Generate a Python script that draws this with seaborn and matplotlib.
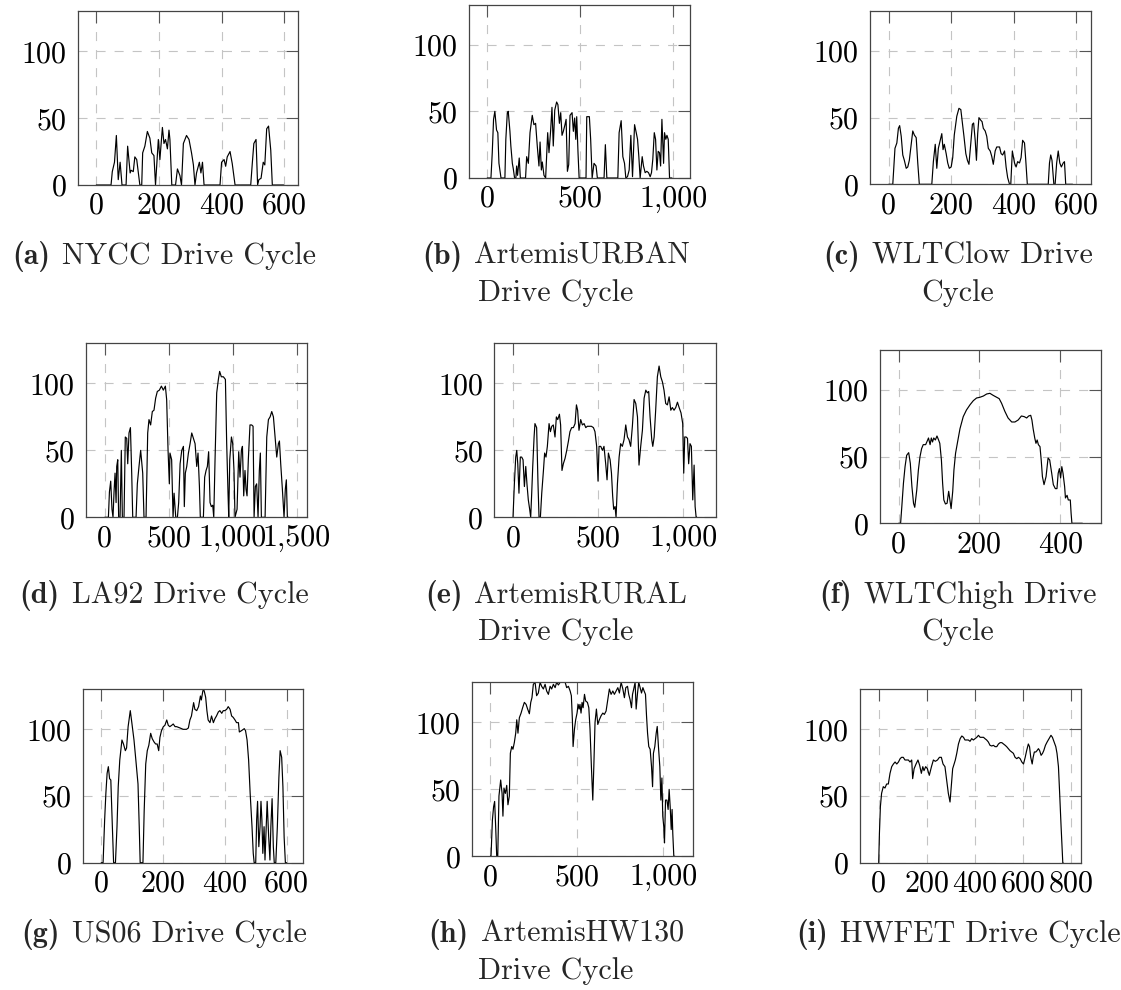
import matplotlib
matplotlib.use('Agg')
import matplotlib.pyplot as plt
import seaborn as sns
import pandas as pd

# ---------------- data: (time [s], speed [km/h]) ----------------
nycc = [(0,0),(47,0),(51,10),(58,17),(64,37),(70,4),(76,17),(82,0),(95,0),(100,29),(108,9),(111,11),
        (118,10),(123,21),(129,19),(139,0),(145,0),(148,24),(155,29),(163,40),(171,35),(177,24),(184,22),
        (189,0),(198,34),(203,19),(211,43),(216,31),(221,34),(227,27),(232,41),(235,34),(241,0),(253,0),
        (259,12),(267,7),(272,0),(278,31),(288,37),(296,34),(304,24),(310,15),(315,0),(320,9),(329,17),
        (334,9),(339,17),(344,0),(395,0),(400,17),(408,19),(413,14),(418,21),(427,25),(434,16),(443,0),
        (493,0),(498,16),(503,31),(510,34),(515,0),(519,4),(526,5),(533,17),(538,15),(544,42),(550,44),
        (557,26),(562,0),(598,0)]

artemis_urban = [(0,0),(20,0),(27,19),(34,44),(41,50),(50,36),(57,34),(63,11),(68,6),(74,0),(95,0),(100,29),
        (108,49),(113,50),(122,35),(127,24),(135,11),(140,7),(147,0),(154,0),(158,9),(163,2),(172,15),(178,0),
        (206,0),(212,16),(221,11),(230,34),(242,47),(251,40),(260,41),(269,24),(278,9),(284,27),(291,6),
        (296,12),(305,2),(314,0),(325,34),(332,19),(341,36),(348,53),(355,24),(363,51),(373,57),(380,55),
        (388,41),(395,49),(402,32),(409,35),(418,40),(424,44),(431,5),(438,10),(445,47),(456,49),(463,35),
        (470,45),(476,29),(481,46),(488,19),(494,0),(531,0),(535,46),(549,46),(556,29),(564,0),(574,11),
        (585,9),(592,0),(628,0),(635,25),(643,0),(702,0),(709,34),(720,43),(729,16),(738,11),(745,0),(754,1),
        (763,6),(772,32),(781,1),(792,40),(801,34),(808,29),(815,16),(822,0),(833,16),(840,9),(849,4),(858,5),
        (867,4),(876,1),(883,4),(890,14),(898,34),(905,29),(912,6),(919,20),(926,19),(932,9),(939,44),(948,11),
        (953,34),(960,29),(966,32),(973,29),(980,0),(993,0)]

wltc_low = [(0,0),(13,0),(20,27),(26,31),(31,42),(35,44),(40,36),(45,22),(50,18),(56,12),(61,13),(66,18),
        (72,30),(77,40),(82,37),(88,35),(93,16),(98,0),(138,0),(143,17),(149,30),(154,12),(159,27),(165,33),
        (170,38),(174,26),(178,30),(184,23),(189,16),(194,12),(200,13),(205,20),(210,37),(218,51),(225,57),
        (231,56),(236,46),(241,36),(247,23),(252,18),(257,15),(263,31),(268,45),(272,46),(277,33),(281,18),
        (285,38),(289,50),(295,48),(299,47),(303,42),(309,40),(314,36),(319,27),(325,25),(330,21),(335,15),
        (341,25),(346,28),(355,28),(360,23),(365,22),(371,25),(376,13),(381,5),(387,0),(391,0),(396,25),
        (403,16),(408,13),(413,17),(419,16),(424,20),(429,33),(435,31),(439,18),(444,0),(511,0),(515,16),
        (519,22),(523,18),(529,0),(533,0),(538,16),(543,25),(548,16),(553,13),(559,16),(563,17),(567,0),(589,0)]

la92 = [(0,0),(29,0),(37,19),(47,27),(57,6),(65,0),(73,19),(81,33),(89,11),(94,38),(102,43),(109,0),(120,0),
        (130,50),(138,0),(151,0),(161,60),(172,59),(180,40),(190,63),(201,67),(211,33),(219,0),(245,0),(255,25),
        (268,38),(281,50),(297,33),(307,0),(323,0),(336,63),(346,73),(359,69),(372,79),(385,80),(398,89),
        (411,94),(427,95),(443,98),(458,95),(474,98),(484,88),(495,50),(505,25),(510,48),(523,43),(534,0),
        (542,18),(555,0),(568,0),(578,11),(589,40),(602,50),(615,53),(622,8),(630,33),(641,38),(654,48),
        (667,55),(680,63),(693,59),(706,55),(719,38),(729,48),(740,23),(747,0),(771,0),(781,30),(792,35),
        (802,38),(812,49),(823,11),(833,8),(844,9),(852,0),(862,43),(875,93),(888,103),(898,109),(911,105),
        (927,105),(943,103),(953,55),(964,16),(969,0),(977,43),(990,60),(1000,55),(1010,35),(1018,0),(1034,6),
        (1047,49),(1057,30),(1068,50),(1076,53),(1086,16),(1096,35),(1104,21),(1112,16),(1122,43),(1135,69),
        (1148,69),(1159,68),(1167,0),(1177,23),(1187,25),(1198,0),(1208,35),(1216,48),(1224,0),(1253,0),
        (1266,60),(1279,73),(1292,75),(1305,79),(1318,75),(1331,60),(1344,45),(1357,55),(1365,57),(1375,40),
        (1388,21),(1401,0),(1411,21),(1419,28),(1427,0),(1435,0)]

artemis_rural = [(0,0),(8,25),(16,45),(22,50),(28,40),(35,18),(43,45),(51,45),(59,43),(67,23),(75,38),(82,25),
        (90,13),(98,6),(104,0),(110,18),(116,38),(124,60),(129,70),(139,67),(147,25),(153,0),(161,0),(169,18),
        (179,35),(186,48),(194,45),(202,53),(212,70),(220,64),(228,68),(237,69),(247,60),(255,75),(263,73),
        (273,77),(280,69),(288,35),(296,40),(306,44),(316,50),(326,57),(335,64),(345,67),(355,67),(365,70),
        (373,84),(380,80),(388,65),(398,73),(408,69),(418,70),(428,67),(437,68),(449,68),(461,68),(473,67),
        (482,64),(492,53),(500,27),(506,53),(516,53),(526,50),(535,53),(545,40),(553,28),(561,48),(571,43),
        (579,33),(586,16),(592,6),(600,8),(606,0),(614,25),(624,45),(633,55),(643,53),(653,58),(663,69),
        (673,60),(682,58),(692,53),(702,68),(712,88),(722,85),(732,75),(741,39),(751,53),(761,65),(771,89),
        (781,95),(790,93),(798,94),(806,75),(816,58),(822,53),(830,60),(839,80),(849,105),(859,113),(869,105),
        (879,101),(888,95),(898,85),(908,84),(918,90),(928,80),(937,82),(947,80),(957,82),(967,86),(977,82),
        (988,78),(998,70),(1004,33),(1010,60),(1018,60),(1026,59),(1033,40),(1041,55),(1049,53),(1057,13),
        (1065,39),(1071,8),(1077,0),(1081,0)]

wltc_high = [(0,0),(5,0),(8,12.5),(12,30),(16,42.5),(20,51),(25,53),(29,45),(33,27.5),(37,15),(40,12),(45,25),
        (49,40),(53,50),(57,56),(61,59),(67,59),(72,62.5),(74,64),(78,59),(81,64),(84,61),(87,64),(91,62.5),
        (95,65.5),(99,62.5),(102,60),(106,47.5),(109,30),(112,17.5),(116,14.5),(120,15),(124,24),(127,17.5),
        (130,11),(134,24),(137,40),(141,52.5),(146,61),(152,71),(160,80),(168,85),(177,89),(185,92),(193,94),
        (201,94.5),(210,95.5),(218,97),(226,97.5),(234,96),(243,94.5),(249,93.5),(255,90),(263,84),(271,79),
        (280,76),(288,76),(296,77.5),(304,80.5),(311,80),(317,79),(322,80.5),(327,81),(330,77.5),(333,71),
        (337,64),(340,60),(343,62.5),(346,59),(350,57.5),(353,47.5),(356,35),(360,29),(365,35),(370,49),
        (374,47.5),(379,37.5),(383,29),(388,26),(392,26),(395,37.5),(398,41),(401,34),(404,42.5),(407,37.5),
        (411,27.5),(413,19),(417,21),(420,17.5),(425,17.5),(427,7.5),(429,0),(455,0)]

us06 = [(0,0),(6,0),(11,32),(15,52),(19,67),(23,72),(27,63),(31,62),(36,27),(40,0),(46,0),(51,27),(55,57),
        (60,77),(67,92),(72,89),(78,84),(82,86),(87,102),(94,114),(99,105),(106,92),(112,77),(119,59),(123,27),
        (126,0),(135,0),(139,39),(144,74),(149,84),(154,88),(160,97),(165,93),(171,90.5),(176,89),(181,89),
        (186,84),(190,94),(195,99),(201,102),(206,103),(212,107),(217,103),(222,102),(228,103),(233,104),
        (239,102),(244,102),(255,101),(265,100),(276,100),(282,101),(287,107),(292,110),(299,120),(303,115),
        (309,114),(315,117),(321,125),(324,122),(329,129),(333,129),(338,124),(342,114),(346,107),(352,105),
        (357,110),(363,105),(368,108),(373,110),(379,113),(384,114),(390,112),(395,114),(400,114),(406,115),
        (411,117),(417,115),(422,110),(427,109),(433,107),(438,105),(444,105),(447,98),(454,99),(463,100.5),
        (467,99),(472,92),(477,77),(482,52),(488,27),(492,7),(495,0),(500,0),(503,32),(506,46),(510,12),
        (514,27),(517,46),(520,32),(523,7),(527,27),(530,2),(534,27),(537,46),(542,19),(546,2),(549,27),
        (553,48),(557,12),(560,0),(565,0),(570,27),(575,64),(579,84),(584,79),(588,57),(592,19),(596,0),(600,0)]

artemis_hw130 = [(0,0),(4,0),(12,27),(19,37),(25,41),(31,22),(37,0),(43,0),(50,45),(60,57),(68,47),(73,30),
        (79,51),(87,47),(95,53),(102,38.5),(110,45),(116,77),(124,82),(131,80),(139,85),(147,92),(153,102),
        (160,92),(168,103.5),(178,107),(187,111),(197,115),(207,113.5),(216,110),(226,106.5),(234,115),
        (241,118.5),(249,128.5),(259,130),(268,120),(278,122),(288,130),(297,127),(307,125),(317,128.5),
        (326,123.5),(336,121),(346,127),(355,125),(365,128.5),(375,126),(384,130),(394,128),(404,130),
        (413,131),(423,130),(433,130),(442,126),(452,127),(462,123.5),(469,120),(475,102),(479,82),(487,95),
        (494,102),(502,107),(508,113.5),(514,110),(519,113.5),(525,107),(531,115),(537,111),(545,121),
        (552,116),(562,115),(570,111),(577,95),(585,67),(593,42),(599,67),(606,100),(614,110),(622,98.5),
        (631,102),(641,105),(651,107),(660,106),(670,108.5),(680,117),(689,125),(699,121),(709,123.5),
        (718,121),(728,123.5),(738,126),(747,122),(757,130),(767,125),(776,118.5),(784,126),(794,127),
        (801,121),(809,117),(817,111),(823,121),(830,125),(838,130),(844,110),(852,122),(859,130),(867,126),
        (875,122),(883,126),(890,123.5),(898,121),(904,105),(910,92),(917,82),(925,80),(933,67),(939,52),
        (944,77),(952,82),(960,92),(966,97),(973,82),(981,67),(987,42),(993,58.5),(998,30),(1004,22),
        (1008,10),(1014,42),(1022,42),(1029,35),(1035,50),(1041,37),(1047,20),(1052,35),(1056,17),(1062,0),
        (1068,0)]

hwfet = [(0,0),(3,22),(7,42),(12,52),(19,57),(26,56),(33,59),(40,59),(47,67),(54,72),(61,74),(68,75.5),(75,74),
        (82,75.5),(89,78),(95,79),(102,79),(109,77),(116,77),(123,77),(130,75.5),(137,77),(141,63),(147,70.5),
        (155,74),(163,77),(170,73),(177,67),(183,72),(188,69),(195,72),(202,70.5),(210,65.5),(219,72),(227,77),
        (235,76),(244,77),(252,79),(260,79),(267,74),(275,72),(282,62),(289,52),(296,45.5),(302,59),(307,70.5),
        (313,74),(318,77),(324,82),(331,89),(338,93),(345,95),(352,94),(358,92),(365,92),(372,92),(379,91),
        (386,93),(393,92),(400,93),(407,94),(414,95.5),(421,94),(428,94),(435,94),(441,93),(448,92),(455,90.5),
        (462,88),(469,87.5),(476,88),(483,87),(490,87),(497,89),(504,90),(511,90),(518,89),(525,88),(531,87),
        (538,85.5),(545,84),(552,83),(559,82),(566,79),(573,78),(580,79),(587,78),(594,75.5),(601,74),(608,79),
        (614,84),(621,89),(626,87),(631,79),(637,74),(641,79),(646,83),(652,83),(657,84),(663,85.5),(668,84),
        (674,80.5),(680,82),(685,84),(692,88),(699,90.5),(707,93),(715,95.5),(721,94),(728,90.5),(735,87),
        (740,82),(746,72),(751,52),(757,27),(764,0),(765,0)]

cycles = [nycc, artemis_urban, wltc_low, la92, artemis_rural, wltc_high, us06, artemis_hw130, hwfet]

sub_labels = ['(a)', '(b)', '(c)', '(d)', '(e)', '(f)', '(g)', '(h)', '(i)']
caption_line1 = ['NYCC Drive Cycle', 'ArtemisURBAN', 'WLTClow Drive', 'LA92 Drive Cycle', 'ArtemisRURAL',
                 'WLTChigh Drive', 'US06 Drive Cycle', 'ArtemisHW130', 'HWFET Drive Cycle']
caption_line2 = ['', 'Drive Cycle', 'Cycle', '', 'Drive Cycle', 'Cycle', '', 'Drive Cycle', '']

x_ticks = [[0, 200, 400, 600], [0, 500, 1000], [0, 200, 400, 600],
           [0, 500, 1000, 1500], [0, 500, 1000], [0, 200, 400],
           [0, 200, 400, 600], [0, 500, 1000], [0, 200, 400, 600, 800]]
x_tick_labels = [['0', '200', '400', '600'], ['0', '500', '1,000'], ['0', '200', '400', '600'],
                 ['0', '500', '1,000', '1,500'], ['0', '500', '1,000'], ['0', '200', '400'],
                 ['0', '200', '400', '600'], ['0', '500', '1,000'], ['0', '200', '400', '600', '800']]
y_ticks = [0, 50, 100]
y_tick_labels = ['0', '50', '100']

# ---------------- layout (pixels) ----------------
W, H = 1121, 990
# (left, right, top, bottom) of each axes box in pixels
boxes = [(78, 298, 11, 185), (469, 690, 4.7, 178), (870, 1091, 11, 184.3),
         (86, 306.7, 343.3, 517.3), (494.3, 715.7, 343.3, 517.3), (880, 1101, 350, 523.3),
         (82.7, 303.3, 689.3, 862.7), (472, 693, 682.3, 856.3), (860, 1081, 689.3, 862.7)]
x_limits = [(-58.5, 644), (-98, 1090), (-60, 648), (-146, 1578), (-110, 1192), (-46, 501),
            (-60, 654), (-106, 1173), (-77.6, 839.6)]
col_centers = [164, 556, 958]
row_baselines = [264, 603, 942]
line_gap = 37

sns.set_theme(style='white')
plt.rcParams['font.family'] = ['cmr10', 'DejaVu Serif']
plt.rcParams['axes.unicode_minus'] = False
plt.rcParams['lines.scale_dashes'] = False
plt.rcParams['axes.formatter.use_mathtext'] = True

FS = 21.7
fig = plt.figure(figsize=(W / 100, H / 100), dpi=100)
fig.patch.set_facecolor('white')

for i, data in enumerate(cycles):
    l, r, t, b = boxes[i]
    ax = fig.add_axes([l / W, 1 - b / H, (r - l) / W, (b - t) / H])
    df = pd.DataFrame(data, columns=['time', 'speed'])
    sns.lineplot(data=df, x='time', y='speed', ax=ax, color='black', linewidth=0.85,
                 estimator=None, sort=False)
    ax.set_xlim(*x_limits[i])
    ax.set_ylim(0, 130)
    ax.set_xticks(x_ticks[i])
    ax.set_xticklabels(x_tick_labels[i])
    ax.set_yticks(y_ticks)
    ax.set_yticklabels(y_tick_labels)
    ax.set_xlabel('')
    ax.set_ylabel('')
    ax.set_facecolor('white')
    ax.grid(True, color='#c4c4c4', linestyle=(0, (6.5, 6.5)), linewidth=0.8)
    ax.set_axisbelow(True)
    ax.tick_params(axis='both', direction='in', length=8.5, width=0.8, color='#555555',
                   top=True, right=True, labelsize=FS, labelcolor='black')
    ax.tick_params(axis='x', pad=5)
    ax.tick_params(axis='y', pad=8)
    for sp in ax.spines.values():
        sp.set_color('#444444')
        sp.set_linewidth(0.9)
        sp.set_visible(True)

# ---------------- captions ----------------
fig.canvas.draw()
renderer = fig.canvas.get_renderer()
space_px = 12
for i in range(9):
    cx = col_centers[i % 3]
    yb = row_baselines[i // 3]
    lab = fig.text(0, 1 - yb / H, sub_labels[i], fontsize=FS, family=['cmb10', 'DejaVu Serif'],
                   fontweight='bold', va='baseline', ha='left')
    body = fig.text(0, 1 - yb / H, caption_line1[i], fontsize=FS, va='baseline', ha='left')
    wl = lab.get_window_extent(renderer).width
    wb = body.get_window_extent(renderer).width
    total = wl + space_px + wb
    x0 = cx - total / 2
    lab.set_x(x0 / W)
    body.set_x((x0 + wl + space_px) / W)
    if caption_line2[i]:
        fig.text(cx / W, 1 - (yb + line_gap) / H, caption_line2[i], fontsize=FS,
                 va='baseline', ha='center')

fig.savefig('out.png', dpi=100, facecolor='white')
